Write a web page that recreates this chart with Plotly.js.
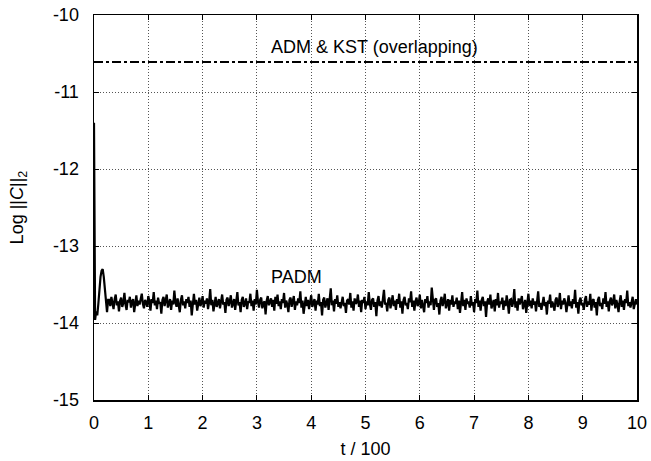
<!DOCTYPE html>
<html>
<head>
<meta charset="utf-8">
<script src="https://cdn.plot.ly/plotly-3.0.1.min.js"></script>
<style>html,body{margin:0;padding:0;background:#fff;}</style>
</head>
<body>
<div id="chart" style="width:651px;height:461px;"></div>
<script>
// ADM & KST constraint norm (overlapping, constant)
const admT = [0, 10];
const admY = [-10.61, -10.61];
const kstT = [0, 10];
const kstY = [-10.61, -10.61];

// PADM constraint norm, sampled from t/100 = 0 with step 0.02
const padmT0 = 0;
const padmDt = 0.02;
const padmY = [
 -11.40, -13.96, -13.85, -13.90, -13.75, -13.55, -13.40, -13.32, -13.30, -13.40, -13.58, -13.76, -13.86, -13.70,
 -13.70, -13.78, -13.66, -13.74, -13.82, -13.69, -13.63, -13.77, -13.72, -13.85,
 -13.71, -13.67, -13.79, -13.74, -13.61, -13.76, -13.83, -13.70, -13.73, -13.66,
 -13.80, -13.72, -13.69, -13.86, -13.74, -13.64, -13.78, -13.71, -13.76, -13.68,
 -13.62, -13.75, -13.81, -13.70, -13.73, -13.79, -13.65, -13.72, -13.84, -13.69,
 -13.74, -13.60, -13.77, -13.71, -13.82, -13.67, -13.75, -13.73, -13.88, -13.70,
 -13.66, -13.78, -13.72, -13.63, -13.80, -13.74, -13.69, -13.83, -13.71, -13.76,
 -13.58, -13.73, -13.79, -13.68, -13.75, -13.86, -13.70, -13.64, -13.77, -13.72,
 -13.81, -13.69, -13.74, -13.66, -13.79, -13.71, -13.90, -13.73, -13.62, -13.76,
 -13.70, -13.84, -13.72, -13.67, -13.78, -13.74, -13.65, -13.80, -13.71, -13.75,
 -13.68, -13.82, -13.73, -13.56, -13.77, -13.70, -13.85, -13.72, -13.66, -13.79,
 -13.74, -13.69, -13.81, -13.71, -13.63, -13.76, -13.73, -13.87, -13.70, -13.67,
 -13.78, -13.72, -13.64, -13.80, -13.74, -13.69, -13.83, -13.71, -13.60, -13.77,
 -13.73, -13.86, -13.70, -13.66, -13.79, -13.75, -13.68, -13.82, -13.72, -13.74,
 -13.62, -13.78, -13.71, -13.84, -13.69, -13.76, -13.57, -13.73, -13.80, -13.70,
 -13.67, -13.81, -13.74, -13.72, -13.89, -13.71, -13.65, -13.77, -13.73, -13.68,
 -13.79, -13.70, -13.84, -13.66, -13.75, -13.63, -13.78, -13.72, -13.82, -13.69,
 -13.74, -13.61, -13.80, -13.71, -13.76, -13.86, -13.70, -13.67, -13.79, -13.73,
 -13.65, -13.83, -13.72, -13.77, -13.68, -13.74, -13.59, -13.80, -13.71, -13.88,
 -13.73, -13.66, -13.78, -13.70, -13.82, -13.75, -13.64, -13.79, -13.72, -13.69,
 -13.84, -13.71, -13.76, -13.62, -13.78, -13.73, -13.90, -13.70, -13.67, -13.80,
 -13.74, -13.68, -13.83, -13.72, -13.55, -13.77, -13.71, -13.85, -13.69, -13.75,
 -13.64, -13.79, -13.73, -13.81, -13.70, -13.66, -13.78, -13.74, -13.87, -13.71,
 -13.69, -13.76, -13.61, -13.80, -13.72, -13.84, -13.68, -13.75, -13.73, -13.63,
 -13.79, -13.71, -13.86, -13.70, -13.74, -13.66, -13.82, -13.72, -13.77, -13.60,
 -13.75, -13.83, -13.70, -13.68, -13.79, -13.73, -13.91, -13.71, -13.65, -13.78,
 -13.72, -13.80, -13.69, -13.57, -13.76, -13.74, -13.85, -13.70, -13.67, -13.81,
 -13.73, -13.64, -13.78, -13.71, -13.83, -13.69, -13.75, -13.62, -13.80, -13.72,
 -13.88, -13.70, -13.66, -13.77, -13.74, -13.82, -13.68, -13.73, -13.59, -13.79,
 -13.71, -13.84, -13.72, -13.67, -13.78, -13.75, -13.63, -13.81, -13.70, -13.76,
 -13.86, -13.69, -13.74, -13.65, -13.80, -13.72, -13.77, -13.54, -13.73, -13.83,
 -13.70, -13.68, -13.79, -13.74, -13.89, -13.71, -13.66, -13.78, -13.72, -13.62,
 -13.81, -13.73, -13.69, -13.84, -13.70, -13.76, -13.64, -13.79, -13.72, -13.75,
 -13.67, -13.82, -13.71, -13.87, -13.74, -13.60, -13.78, -13.70, -13.83, -13.68,
 -13.75, -13.72, -13.80, -13.65, -13.77, -13.73, -13.86, -13.69, -13.74, -13.58,
 -13.79, -13.71, -13.84, -13.70, -13.66, -13.78, -13.72, -13.92, -13.73, -13.68,
 -13.76, -13.63, -13.81, -13.74, -13.70, -13.85, -13.69, -13.77, -13.61, -13.80,
 -13.72, -13.75, -13.67, -13.83, -13.71, -13.78, -13.64, -13.74, -13.88, -13.70,
 -13.69, -13.79, -13.73, -13.56, -13.80, -13.72, -13.84, -13.68, -13.76, -13.71,
 -13.65, -13.82, -13.74, -13.70, -13.87, -13.73, -13.62, -13.78, -13.71, -13.81,
 -13.68, -13.76, -13.72, -13.85, -13.69, -13.59, -13.79, -13.74, -13.83, -13.70,
 -13.66, -13.78, -13.73, -13.89, -13.71, -13.75, -13.63, -13.80, -13.72, -13.77,
 -13.84, -13.70, -13.67, -13.79, -13.74, -13.61, -13.82, -13.71, -13.76, -13.68,
 -13.73, -13.86, -13.70, -13.64, -13.78, -13.72, -13.81, -13.69, -13.75, -13.57,
 -13.80, -13.73, -13.88, -13.71, -13.67, -13.77, -13.74, -13.83, -13.70, -13.65,
 -13.79, -13.72, -13.76, -13.62, -13.84, -13.71, -13.69, -13.80, -13.73, -13.90,
 -13.70, -13.66, -13.78, -13.74, -13.82, -13.68, -13.75, -13.60, -13.79, -13.72,
 -13.85, -13.71, -13.67, -13.77, -13.73, -13.63, -13.81, -13.70, -13.76, -13.86,
 -13.72, -13.64, -13.79, -13.71, -13.83, -13.69, -13.74, -13.58, -13.78, -13.73,
 -13.80, -13.70, -13.66, -13.82, -13.74, -13.69, -13.76
];

const xTicks = [0,1,2,3,4,5,6,7,8,9,10];
const yTicks = [-15,-14,-13,-12,-11,-10];

const font = {family: '"Liberation Sans", Arial, sans-serif', size: 18, color: '#000'};

const traces = [
  {x: admT, y: admY, mode: 'lines', name: 'ADM', line: {color: '#000', width: 2, dash: 'dashdot'}},
  {x: kstT, y: kstY, mode: 'lines', name: 'KST', line: {color: '#000', width: 2, dash: 'dashdot'}},
  {x0: padmT0, dx: padmDt, y: padmY, mode: 'lines', name: 'PADM', line: {color: '#000', width: 2.2}}
];

const axisCommon = {
  showline: true, linecolor: '#000', linewidth: 1.5, mirror: 'ticks',
  ticks: 'inside', ticklen: 5, tickcolor: '#000',
  showgrid: true, gridcolor: '#555', gridwidth: 1, griddash: '1px,2px',
  zeroline: false, tickfont: font
};

const layout = {
  width: 651, height: 461,
  margin: {l: 94, r: 14, t: 15, b: 61},
  paper_bgcolor: '#fff', plot_bgcolor: '#fff',
  showlegend: false,
  font: font,
  xaxis: Object.assign({}, axisCommon, {
    range: [0, 10], tickvals: xTicks, ticktext: xTicks.map(String),
    ticklabelstandoff: 6,
    title: {text: 't / 100', font: font, standoff: 10}
  }),
  yaxis: Object.assign({}, axisCommon, {
    range: [-15, -10], tickvals: yTicks, ticktext: yTicks.map(String),
    ticklabelstandoff: 10,
    title: {text: 'Log ||<i>C</i>||<sub>2</sub>', font: font, standoff: 24}
  }),
  annotations: [
    {x: 5.17, y: -10.42, xref: 'x', yref: 'y', text: 'ADM &amp; KST (overlapping)', showarrow: false, font: font},
    {x: 3.72, y: -13.4, xref: 'x', yref: 'y', text: 'PADM', showarrow: false, font: font}
  ]
};

Plotly.newPlot('chart', traces, layout, {displayModeBar: false, staticPlot: true});
</script>
</body>
</html>
